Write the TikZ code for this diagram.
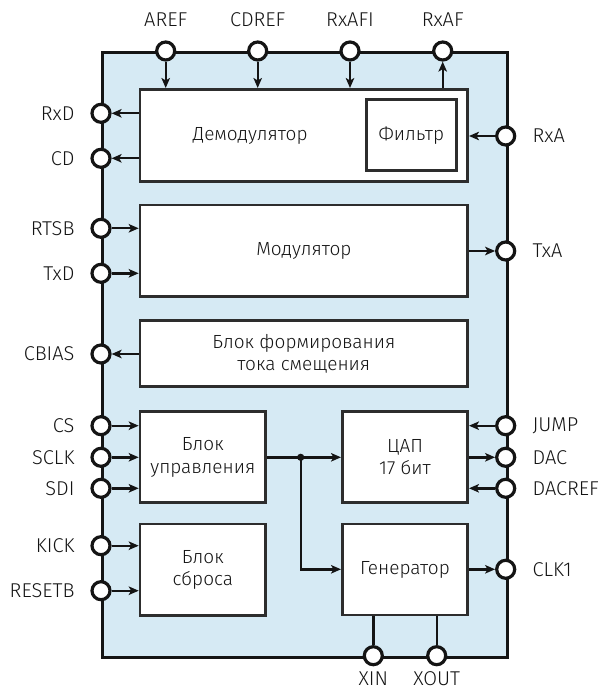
\documentclass[tikz,border=0pt]{standalone}
\usepackage{fontspec}
\setmainfont{Fira Sans Light}
\usetikzlibrary{arrows.meta,calc,positioning}
\definecolor{chipblue}{RGB}{214,234,244}
\definecolor{ink}{RGB}{20,20,20}
\definecolor{blkline}{RGB}{45,45,45}
\tikzset{sig/.style={draw=ink, line width=2.4pt, -{Stealth[length=10pt,width=8.5pt,inset=2.5pt]}},
  blk/.style={draw=blkline, line width=2.6pt, fill=white, align=center},
  term/.style={circle, draw=ink, line width=3.2pt, fill=white, minimum size=18pt, inner sep=0pt},
  lbl/.style={font=\fontsize{20}{24}\selectfont}}

\begin{document}
\begin{tikzpicture}[x=1pt, y=-1pt, font=\fontsize{19}{22.5}\selectfont, text=ink]
  \useasboundingbox (0,0) rectangle (599,692);
  \node[draw=ink, line width=3pt, fill=chipblue, anchor=north west, minimum width=405pt, minimum height=605pt] (chip) at (101,51) {};
  % pins
  \foreach \n/\x/\t in {aref/165.7/AREF, cdref/257.7/CDREF, rxafi/350/RxAFI, rxaf/442.7/RxAF}{
    \node[term] (\n) at (\x,51) {};
    \node[lbl] (\n-l) at (\x,20) {\t};}
  \foreach \n/\y/\t in {rxd/113.3/RxD, cd/158.3/CD, rtsb/228.3/RTSB, txd/273.3/TxD, cbias/354/CBIAS,
    cs/425.7/CS, sclk/457.3/SCLK, sdi/488.3/SDI, kick/545.7/KICK, resetb/590.7/RESETB}{
    \node[term] (\n) at (101,\y) {};
    \node[lbl, anchor=east] (\n-l) at (78,\y) {\t};}
  \foreach \n/\y/\t in {rxa/136/RxA, txa/251/TxA, jump/425.7/JUMP, dac/457.3/DAC, dacref/488.3/DACREF, clk/569.3/CLK1}{
    \node[term] (\n) at (505.7,\y) {};
    \node[lbl, anchor=west] (\n-l) at (529,\y) {\t};}
  \foreach \n/\x/\t in {xin/373.3/XIN, xout/436.7/XOUT}{
    \node[term] (\n) at (\x,655.7) {};
    \node[lbl] (\n-l) at (\x,679) {\t};}
  % blocks
  \node[blk, minimum width=327.7pt, minimum height=92.4pt] (demod) at (303.85,135.5) {};
  \node (demod-t) at (250.2,135.5) {Демодулятор};
  \node[blk, line width=3pt, minimum width=89.3pt, minimum height=71pt] (filt) at (411.35,135.5) {Фильтр};
  \node[blk, minimum width=327.7pt, minimum height=91.7pt] (mod) at (303.85,250.85) {Модулятор};
  \node[blk, minimum width=327.7pt, minimum height=66pt] (bias) at (303.85,353.7) {Блок формирования\\тока смещения};
  \node[blk, minimum width=125.7pt, minimum height=91pt] (ctrl) at (202.85,457.2) {Блок\\управления};
  \node[blk, minimum width=125.7pt, minimum height=91.7pt] (reset) at (202.85,569.85) {Блок\\сброса};
  \node[blk, minimum width=125.4pt, minimum height=91pt] (dacb) at (405,457.2) {ЦАП\\17 бит};
  \node[blk, minimum width=125.4pt, minimum height=91pt] (gen) at (405,569.5) {Генератор};
  % demodulator
  \draw[sig] (aref) -- (aref |- demod.north);
  \draw[sig] (cdref) -- (cdref |- demod.north);
  \draw[sig] (rxafi) -- (rxafi |- demod.north);
  \draw[sig] (rxaf |- demod.north) -- (rxaf);
  \draw[sig] (demod.west |- rxd) -- (rxd);
  \draw[sig] (demod.west |- cd) -- (cd);
  \draw[sig] (rxa) -- (rxa -| demod.east);
  % modulator, bias
  \draw[sig] (rtsb) -- (rtsb -| mod.west);
  \draw[sig] (txd) -- (txd -| mod.west);
  \draw[sig] (mod.east |- txa) -- (txa);
  \draw[sig] (bias.west |- cbias) -- (cbias);
  % control, reset
  \foreach \n in {cs,sclk,sdi}{\draw[sig] (\n) -- (\n -| ctrl.west);}
  \foreach \n in {kick,resetb}{\draw[sig] (\n) -- (\n -| reset.west);}
  \coordinate (jn) at (300.7,457.3);
  \draw[sig] (ctrl.east |- jn) -- (jn -| dacb.west);
  \draw[sig] (jn) |- (gen.west |- clk);
  \fill[ink] (jn) circle (3.6pt);
  % dac, generator
  \draw[sig] (jump) -- (jump -| dacb.east);
  \draw[sig] (dacb.east |- dac) -- (dac);
  \draw[sig] (dacref) -- (dacref -| dacb.east);
  \draw[sig] (gen.east |- clk) -- (clk);
  \draw[draw=ink, line width=2.4pt] (xin |- gen.south) -- (xin);
  \draw[draw=ink, line width=2.4pt] (xout |- gen.south) -- (xout);
\end{tikzpicture}
\end{document}
